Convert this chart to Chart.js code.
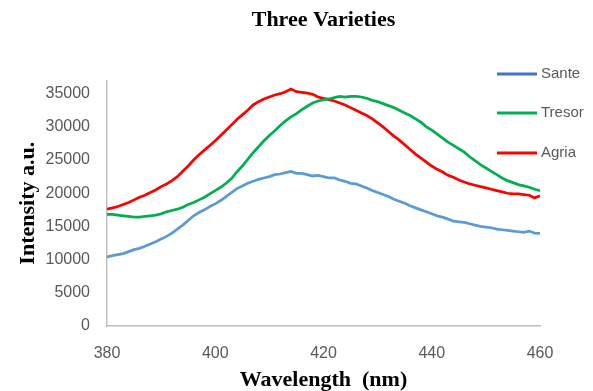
<!DOCTYPE html>
<html>
<head>
<meta charset="utf-8">
<script src="https://cdn.jsdelivr.net/npm/chart.js@4"></script>
<style>
  html, body { margin: 0; padding: 0; background: #fff; }
  #wrap { width: 593px; height: 391px; }
</style>
</head>
<body>
<div id="wrap"><canvas id="myChart" width="593" height="391"></canvas></div>
<script>
// wavelength (nm)
var wavelength = [380,381,382,383,384,385,386,387,388,389,390,391,392,393,394,395,396,397,398,399,
  400,401,402,403,404,405,406,407,408,409,410,411,412,413,414,415,416,417,418,419,
  420,421,422,423,424,425,426,427,428,429,430,431,432,433,434,435,436,437,438,439,
  440,441,442,443,444,445,446,447,448,449,450,451,452,453,454,455,456,457,458,459,460]

var sante = [10400,10600,10750,10900,11200,11500,11700,12000,12350,12700,13100,13500,14000,14600,15200,15900,16600,17100,17500,18000,
  18400,18900,19500,20100,20700,21100,21500,21800,22100,22300,22500,22800,22900,23100,23300,23000,23000,22800,22600,22700,
  22500,22300,22300,22000,21800,21500,21400,21100,20800,20400,20100,19800,19500,19100,18800,18500,18100,17800,17500,17200,
  16900,16600,16400,16100,15800,15700,15600,15400,15200,15000,14900,14800,14600,14500,14400,14300,14200,14100,14300,14000,13950]

var tresor = [16800,16800,16700,16600,16500,16400,16400,16500,16600,16700,16900,17200,17400,17600,17900,18300,18600,19000,19400,19900,
  20400,20900,21500,22200,23200,24100,25100,26100,27000,27900,28700,29400,30200,30900,31500,32000,32600,33100,33600,33900,
  34100,34200,34400,34600,34500,34600,34600,34500,34300,34000,33800,33500,33200,32900,32500,32100,31700,31200,30700,30000,
  29500,28900,28300,27700,27200,26700,26200,25500,24900,24300,23800,23300,22800,22300,21900,21600,21300,21100,20900,20600,20400]

var agria = [17600,17800,18000,18300,18600,19000,19400,19700,20100,20500,21000,21400,21900,22500,23300,24100,25000,25800,26500,27200,
  27900,28700,29500,30300,31100,31800,32500,33300,33800,34200,34500,34800,35000,35300,35700,35300,35200,35100,34900,34500,
  34300,34100,33900,33600,33300,32900,32500,32100,31700,31200,30600,30000,29300,28600,28000,27300,26600,25900,25300,24700,
  24100,23600,23200,22700,22400,22000,21700,21400,21200,21000,20800,20600,20400,20200,20000,19900,19900,19800,19700,19300,19600]

var yTicks = [0,5000,10000,15000,20000,25000,30000,35000]
var xTicks = [380,400,420,440,460]

var names = ["Sante","Tresor","Agria"]
var lineColors = ["#5B9BD5","#00B050","#FF0000"]
var legendColors = ["#4472C4","#00B050","#FF0000"]

function pts(vals){
  return wavelength.map(function(w,i){ return {x:w, y:vals[i]} })
}

// legend drawn at the right, over the plot like in the original
var sideLegend = {
  id:'sideLegend',
  afterDraw:function(chart){
    var ctx = chart.ctx
    var ys = [74,113,153]
    ctx.save()
    ctx.font = "15px 'Liberation Sans'"
    ctx.textBaseline = "middle"
    ctx.textAlign = "left"
    for (var i=0;i<names.length;i++){
      ctx.strokeStyle = legendColors[i]
      ctx.lineWidth = 3
      ctx.beginPath()
      ctx.moveTo(497, ys[i])
      ctx.lineTo(537, ys[i])
      ctx.stroke()
      ctx.fillStyle = "#595959"
      ctx.fillText(names[i], 541, ys[i])
    }
    ctx.restore()
  }
}

var myChart = document.getElementById("myChart").getContext('2d')

var chart = new Chart(myChart,{
  type:'line',
  data:{
    datasets:[
      { label:names[0], data:pts(sante), borderColor:lineColors[0], backgroundColor:lineColors[0] },
      { label:names[1], data:pts(tresor), borderColor:lineColors[1], backgroundColor:lineColors[1] },
      { label:names[2], data:pts(agria), borderColor:lineColors[2], backgroundColor:lineColors[2] }
    ]
  },
  options:{
    responsive:false,
    animation:false,
    layout:{ padding:{ left:0, right:53, top:0, bottom:0 } },
    elements:{
      point:{ radius:0 },
      line:{ borderWidth:2.75, tension:0 }
    },
    plugins:{
      legend:{ display:false },
      tooltip:{ enabled:false },
      title:{
        display:true,
        text:"Three Varieties",
        fullSize:false,
        color:"#000",
        font:{ family:"'Liberation Serif'", size:22, weight:'bold' },
        padding:{ top:7, bottom:47 }
      }
    },
    scales:{
      x:{
        type:'linear',
        min:380, max:460,
        grid:{ display:false },
        border:{ display:true, color:"#BFBFBF", width:1.5 },
        ticks:{ padding:10, autoSkip:false, color:"#595959", font:{ family:"'Liberation Sans'", size:16 } },
        afterBuildTicks:function(s){ s.ticks = xTicks.map(function(v){ return {value:v} }) },
        title:{ display:true, text:"Wavelength  (nm)", color:"#000",
          font:{ family:"'Liberation Serif'", size:22, weight:'bold', lineHeight:1 }, padding:{ top:0, bottom:0 } },
        afterFit:function(s){ s.height = 65 }
      },
      y:{
        min:0, max:37000,
        grid:{ display:false },
        border:{ display:true, color:"#BFBFBF", width:1.5 },
        ticks:{ padding:9, autoSkip:false, color:"#595959", font:{ family:"'Liberation Sans'", size:16 },
          callback:function(v){ return String(v) } },
        afterBuildTicks:function(s){ s.ticks = yTicks.map(function(v){ return {value:v} }) },
        title:{ display:true, text:"Intensity a.u.", color:"#000",
          font:{ family:"'Liberation Serif'", size:22, weight:'bold' }, padding:{ top:15, bottom:0 } },
        afterFit:function(s){ s.width = 107 }
      }
    }
  },
  plugins:[sideLegend]
})
</script>
</body>
</html>
